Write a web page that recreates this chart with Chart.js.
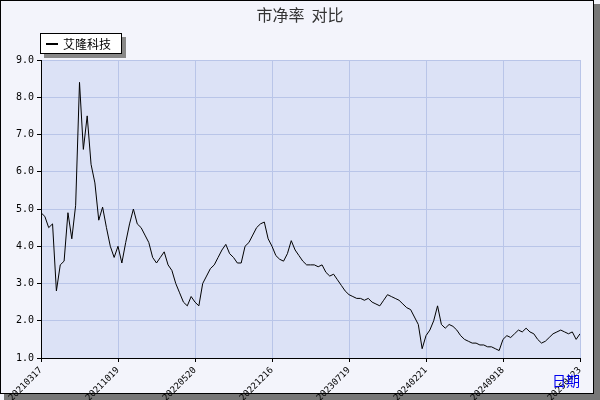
<!DOCTYPE html>
<html><head><meta charset="utf-8">
<script src="https://cdn.jsdelivr.net/npm/chart.js@4/dist/chart.umd.min.js"></script>
<style>html,body{margin:0;padding:0;background:#fff}#w{width:600px;height:400px}</style>
</head><body><div id="w"><canvas id="c" width="600" height="400"></canvas></div>
<script>
const titleText = "市净率  对比";
const seriesName = "艾隆科技";
const tickLabels = ["20210317","20211019","20220520","20221216","20230719","20240221","20240918","20250423"];
const pbValues = [4.9,4.8,4.5,4.6,2.8,3.5,3.6,4.9,4.2,5.1,8.4,6.6,7.5,6.2,5.7,4.7,5.05,4.5,4.0,3.7,
4.0,3.55,4.1,4.6,5.0,4.6,4.5,4.3,4.1,3.7,3.55,3.7,3.85,3.5,3.35,3.0,2.75,2.5,2.4,2.65,
2.5,2.4,3.0,3.2,3.4,3.5,3.7,3.9,4.05,3.8,3.7,3.55,3.55,4.0,4.1,4.3,4.5,4.6,4.65,4.2,
4.0,3.75,3.65,3.6,3.8,4.15,3.9,3.75,3.6,3.5,3.5,3.5,3.45,3.5,3.3,3.2,3.25,3.1,2.95,2.8,
2.7,2.65,2.6,2.6,2.55,2.6,2.5,2.45,2.4,2.55,2.7,2.65,2.6,2.55,2.45,2.35,2.3,2.1,1.9,1.25,
1.6,1.75,2.0,2.4,1.9,1.8,1.9,1.85,1.75,1.6,1.5,1.45,1.4,1.4,1.35,1.35,1.3,1.3,1.25,1.2,
1.5,1.6,1.55,1.65,1.75,1.7,1.8,1.7,1.65,1.5,1.4,1.45,1.55,1.65,1.7,1.75,1.7,1.65,1.7,1.5,1.65];
const points = pbValues.map((v,i)=>({x:i,y:v}));
const step = 20;
const deco = {id:'deco',
 beforeDraw(ch){const c=ch.ctx;c.save();
  c.fillStyle='#f3f4fb';c.fillRect(0,0,600,400);
  c.fillStyle='#777';c.fillRect(4,394,596,6);c.fillRect(594,4,6,396);
  c.strokeStyle='#000';c.lineWidth=1;c.strokeRect(0.5,0.5,593,393);
  const a=ch.chartArea;c.fillStyle='#dce2f6';c.fillRect(a.left,a.top,a.right-a.left,a.bottom-a.top);
  c.restore();},
 afterDraw(ch){const c=ch.ctx;c.save();
  c.font='16px "Noto Sans CJK SC"';c.fillStyle='#333';c.textAlign='center';c.textBaseline='middle';
  c.fillText(titleText,300,15);
  c.fillStyle='#888';c.fillRect(44,37,82,21);
  c.fillStyle='#fff';c.fillRect(40,33,82,21);c.strokeStyle='#000';c.strokeRect(40.5,33.5,81,20);
  c.beginPath();c.moveTo(46,44);c.lineTo(58,44);c.lineWidth=2;c.stroke();
  c.font='12px "Noto Sans CJK SC"';c.fillStyle='#000';c.textAlign='left';c.fillText(seriesName,63,44);
  c.font='14px "Noto Sans CJK SC"';c.fillStyle='#0000ee';c.textAlign='right';c.fillText('日期',580,381);
  c.restore();}};
new Chart(document.getElementById('c'),{type:'line',
 data:{datasets:[{label:seriesName,data:points,borderColor:'#000',borderWidth:1,pointRadius:0,tension:0}]},
 options:{animation:false,responsive:false,
  layout:{padding:{top:60,right:20,left:0,bottom:0}},
  plugins:{legend:{display:false},title:{display:false},tooltip:{enabled:false}},
  scales:{
   x:{type:'linear',min:0,max:pbValues.length-1,
    afterFit(s){s.height=42;},
    afterBuildTicks(s){s.ticks=tickLabels.map((t,i)=>({value:i*step}));},
    ticks:{autoSkip:false,minRotation:45,maxRotation:45,font:{family:'DejaVu Sans Mono',size:9},color:'#000',
     callback:(v)=>tickLabels[Math.round(v/step)]},
    grid:{color:'#b9c5e8',drawTicks:true,tickLength:4,tickColor:'#000'},border:{color:'#000'}},
   y:{min:1,max:9,afterFit(s){s.width=41;},
    ticks:{stepSize:1,font:{family:'DejaVu Sans Mono',size:10},color:'#000',callback:v=>v.toFixed(1)},
    grid:{color:'#b9c5e8',tickLength:4,tickColor:'#000'},border:{color:'#000'}}}},
 plugins:[deco]});
</script></body></html>
